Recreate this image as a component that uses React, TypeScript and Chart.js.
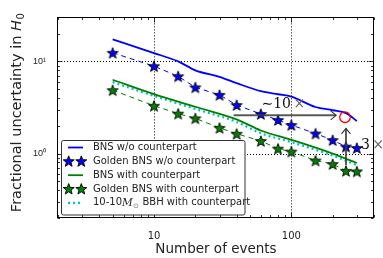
import { useEffect, useRef } from "react";
import { Chart, registerables } from "chart.js";

Chart.register(...registerables);

// ---------------- data ----------------
const bnsWoEvents = [5, 10, 15, 20, 30, 40, 60, 80, 100, 150, 200, 250, 300];
const bnsWoUncert = [17.3, 12.3, 10.0, 8.0, 6.8, 5.8, 4.75, 4.4, 4.15, 3.2, 2.95, 2.75, 2.26];
const goldenEvents = [5, 10, 15, 20, 30, 40, 60, 80, 100, 150, 200, 250, 300];
const goldenWoUncert = [12.4, 8.88, 6.89, 5.23, 4.33, 3.36, 2.69, 2.31, 2.04, 1.65, 1.4, 1.19, 1.15];
const bnsWithEvents = [5, 10, 20, 40, 60, 100, 200, 300];
const bnsWithUncert = [6.32, 4.42, 3.22, 2.35, 1.78, 1.41, 1.0, 0.79];
const goldenWithUncert = [4.87, 3.3, 2.71, 2.41, 1.9, 1.64, 1.37, 1.13, 1.05, 0.84, 0.77, 0.65, 0.64];
const bbhEvents = [5, 10, 20, 40, 60, 100, 200, 300];
const bbhUncert = [5.95, 4.22, 3.05, 2.2, 1.66, 1.33, 0.95, 0.75];

const seriesLabels = [
  "BNS w/o counterpart",
  "Golden BNS w/o counterpart",
  "BNS with counterpart",
  "Golden BNS with counterpart",
  "10-10M⊙ BBH with counterpart",
];

const xTickValues = [10, 100];
const xTickLabels = ["10", "100"];
const yTickValues = [1, 10];
const yTickLabels = ["10⁰", "10¹"];
const xTitle = "Number of events";
const yTitleMain = "Fractional uncertainty in ";
const yTitleVar = "H";
const yTitleSub = "0";

// annotations (data coordinates)
const tenXArrowX = [38, 212];
const tenXArrowY = 2.6;
const tenXLabel = { x: 60.6, y: 3.1, main: "∼10", times: "×" };
const threeXArrowX = 250;
const threeXArrowY = [0.75, 1.88];
const threeXLabel = { x: 321, y: 1.107, main: "3", times: "×" };
const markerCircle = { x: 246, y: 2.48 };

// ---------------- helpers ----------------
const BLUE = "#0000ff";
const GREEN = "#008000";
const CYAN = "#00bfbf";
const TEXT = "#222";

function drawStar(ctx: CanvasRenderingContext2D, cx: number, cy: number, R: number, fill: string) {
  const r = R * 0.42;
  ctx.save();
  ctx.beginPath();
  for (let i = 0; i < 10; i++) {
    const ang = -Math.PI / 2 + (i * Math.PI) / 5;
    const rad = i % 2 === 0 ? R : r;
    const px = cx + rad * Math.cos(ang);
    const py = cy + rad * Math.sin(ang);
    if (i === 0) ctx.moveTo(px, py);
    else ctx.lineTo(px, py);
  }
  ctx.closePath();
  ctx.fillStyle = fill;
  ctx.fill();
  ctx.lineWidth = 0.9;
  ctx.strokeStyle = "#000";
  ctx.lineJoin = "miter";
  ctx.stroke();
  ctx.restore();
}

function starImage(fill: string) {
  const c = document.createElement("canvas");
  c.width = 14;
  c.height = 14;
  const g = c.getContext("2d")!;
  drawStar(g, 7, 7.6, 5.8, fill);
  return c;
}

function zip(xs: number[], ys: number[]) {
  return xs.map((x, i) => ({ x, y: ys[i] }));
}

function logTickSet(min: number, max: number) {
  const out: { v: number; major: boolean }[] = [];
  for (let e = -2; e <= 4; e++) {
    for (let m = 1; m < 10; m++) {
      const v = m * Math.pow(10, e);
      if (v >= min * 0.999 && v <= max * 1.001) out.push({ v, major: m === 1 });
    }
  }
  return out;
}

function line(ctx: CanvasRenderingContext2D, x0: number, y0: number, x1: number, y1: number) {
  ctx.beginPath();
  ctx.moveTo(x0, y0);
  ctx.lineTo(x1, y1);
  ctx.stroke();
}

const decorPlugin = {
  id: "decor",
  beforeDatasetsDraw(chart: any) {
    const { ctx, chartArea: a } = chart;
    const xs = chart.scales.x;
    const ys = chart.scales.y;
    ctx.save();
    ctx.strokeStyle = "#000";
    ctx.lineWidth = 1;
    ctx.setLineDash([1, 2]);
    xTickValues.forEach((v) => {
      const p = Math.round(xs.getPixelForValue(v)) + 0.5;
      line(ctx, p, a.top, p, a.bottom);
    });
    yTickValues.forEach((v) => {
      const p = Math.round(ys.getPixelForValue(v)) + 0.5;
      line(ctx, a.left, p, a.right, p);
    });
    ctx.restore();
  },
  afterDatasetsDraw(chart: any) {
    const { ctx, chartArea: a } = chart;
    const xs = chart.scales.x;
    const ys = chart.scales.y;
    const L = Math.round(a.left) - 0.5;
    const R = Math.round(a.right) - 0.5;
    const T = Math.round(a.top) + 0.5;
    const B = Math.round(a.bottom) - 0.5;

    // ---- annotations ----
    ctx.save();
    const hx0 = xs.getPixelForValue(tenXArrowX[0]);
    const hx1 = xs.getPixelForValue(tenXArrowX[1]);
    const hy = ys.getPixelForValue(tenXArrowY);
    ctx.strokeStyle = "rgba(60,60,60,0.85)";
    ctx.lineWidth = 2;
    line(ctx, hx0, hy, hx1, hy);
    ctx.lineWidth = 1.1;
    ctx.strokeStyle = "#333";
    ctx.beginPath();
    ctx.moveTo(hx1 - 5.5, hy - 4.5);
    ctx.lineTo(hx1, hy);
    ctx.lineTo(hx1 - 5.5, hy + 4.5);
    ctx.stroke();
    const vx = xs.getPixelForValue(threeXArrowX);
    const vy0 = ys.getPixelForValue(threeXArrowY[0]);
    const vy1 = ys.getPixelForValue(threeXArrowY[1]);
    ctx.strokeStyle = "rgba(60,60,60,0.85)";
    ctx.lineWidth = 2;
    line(ctx, vx, vy0, vx, vy1);
    ctx.lineWidth = 1.1;
    ctx.strokeStyle = "#333";
    ctx.beginPath();
    ctx.moveTo(vx - 4.5, vy1 + 5.5);
    ctx.lineTo(vx, vy1);
    ctx.lineTo(vx + 4.5, vy1 + 5.5);
    ctx.stroke();
    ctx.strokeStyle = "#ff0000";
    ctx.lineWidth = 1.3;
    ctx.beginPath();
    ctx.arc(xs.getPixelForValue(markerCircle.x), ys.getPixelForValue(markerCircle.y), 5.3, 0, Math.PI * 2);
    ctx.stroke();
    ctx.textBaseline = "alphabetic";
    ctx.textAlign = "left";
    ctx.font = "14px 'DejaVu Serif'";
    [tenXLabel, threeXLabel].forEach((lb) => {
      const px = xs.getPixelForValue(lb.x);
      const py = ys.getPixelForValue(lb.y);
      ctx.fillStyle = "#111";
      ctx.fillText(lb.main, px, py);
      const w = ctx.measureText(lb.main).width;
      ctx.fillStyle = "#666";
      ctx.fillText(lb.times, px + w + 2.5, py);
    });
    ctx.restore();

    // ---- frame ----
    ctx.save();
    ctx.strokeStyle = "#000";
    ctx.lineWidth = 1;
    ctx.strokeRect(L, T, R - L, B - T);
    ctx.lineWidth = 0.8;
    logTickSet(xs.min, xs.max).forEach(({ v, major }) => {
      const p = Math.round(xs.getPixelForValue(v)) + 0.5;
      const len = major ? 5 : 2.5;
      line(ctx, p, B, p, B - len);
      line(ctx, p, T, p, T + len);
    });
    logTickSet(ys.min, ys.max).forEach(({ v, major }) => {
      const p = Math.round(ys.getPixelForValue(v)) + 0.5;
      const len = major ? 5 : 2.5;
      line(ctx, L, p, L + len, p);
      line(ctx, R, p, R - len, p);
    });
    ctx.restore();

    // ---- y title ----
    ctx.save();
    const mainFont = "14.5px 'DejaVu Sans'";
    const varFont = "oblique 14.5px 'DejaVu Sans'";
    const subFont = "10px 'DejaVu Sans'";
    ctx.font = mainFont;
    const w1 = ctx.measureText(yTitleMain).width;
    ctx.font = varFont;
    const w2 = ctx.measureText(yTitleVar).width;
    ctx.font = subFont;
    const w3 = ctx.measureText(yTitleSub).width;
    const total = w1 + w2 + w3 + 0.5;
    const cy = (a.top + a.bottom) / 2 - 5;
    ctx.translate(20.5, cy + total / 2);
    ctx.rotate(-Math.PI / 2);
    ctx.fillStyle = TEXT;
    ctx.textBaseline = "alphabetic";
    ctx.textAlign = "left";
    ctx.font = mainFont;
    ctx.fillText(yTitleMain, 0, 0);
    ctx.font = varFont;
    ctx.fillText(yTitleVar, w1, 0);
    ctx.font = subFont;
    ctx.fillText(yTitleSub, w1 + w2 + 0.5, 3);
    ctx.restore();

    // ---- legend ----
    ctx.save();
    const lx = Math.round(a.left) + 3.5;
    const lw = 183.5;
    const lh = 74.5;
    const ly = Math.round(a.bottom) - 3 - lh;
    ctx.fillStyle = "#fff";
    ctx.strokeStyle = "#333";
    ctx.lineWidth = 1;
    ctx.beginPath();
    (ctx as any).roundRect ? (ctx as any).roundRect(lx, ly, lw, lh, 2) : ctx.rect(lx, ly, lw, lh);
    ctx.fill();
    ctx.stroke();
    const ds = chart.data.datasets;
    ds.forEach((d: any, i: number) => {
      const ry = ly + 7 + i * 13.85;
      const hx0 = lx + 6.5;
      const hx1 = lx + 21.5;
      ctx.save();
      if (d.pointRadius > 0 && typeof d.pointStyle === "object") {
        drawStar(ctx, lx + 7.2, ry + 0.3, 5.8, d.pointBackgroundColor);
        drawStar(ctx, lx + 19.8, ry + 0.3, 5.8, d.pointBackgroundColor);
      } else {
        ctx.strokeStyle = d.borderColor;
        ctx.lineWidth = d.borderWidth;
        ctx.setLineDash(d.borderDash || []);
        line(ctx, hx0, ry, hx1, ry);
      }
      ctx.restore();
      const tx = lx + 31.5;
      ctx.fillStyle = TEXT;
      ctx.textBaseline = "middle";
      ctx.textAlign = "left";
      const label: string = d.label;
      const idx = label.indexOf("M⊙");
      if (idx < 0) {
        ctx.font = "10px 'DejaVu Sans'";
        ctx.fillText(label, tx, ry);
      } else {
        const pre = label.slice(0, idx);
        const post = label.slice(idx + 2);
        ctx.font = "10px 'DejaVu Sans'";
        ctx.fillText(pre, tx, ry);
        let cx = tx + ctx.measureText(pre).width;
        ctx.font = "italic 10.5px 'DejaVu Serif'";
        ctx.fillText("M", cx, ry);
        cx += ctx.measureText("M").width;
        ctx.font = "7px 'DejaVu Sans'";
        ctx.fillStyle = "#777";
        ctx.fillText("⊙", cx + 0.3, ry + 3);
        cx += ctx.measureText("⊙").width + 0.6;
        ctx.fillStyle = TEXT;
        ctx.font = "10px 'DejaVu Sans'";
        ctx.fillText(post, cx, ry);
      }
    });
    ctx.restore();
  },
};

export default function App() {
  const ref = useRef<HTMLCanvasElement>(null);
  useEffect(() => {
    const starBlue = starImage(BLUE);
    const starGreen = starImage(GREEN);
    const chart = new Chart(ref.current!, {
      type: "line",
      data: {
        datasets: [
          {
            label: seriesLabels[0],
            data: zip(bnsWoEvents, bnsWoUncert),
            borderColor: BLUE,
            borderWidth: 1.8,
            pointRadius: 0,
            cubicInterpolationMode: "monotone",
            fill: false,
          },
          {
            label: seriesLabels[1],
            data: zip(goldenEvents, goldenWoUncert),
            borderColor: BLUE,
            borderWidth: 1,
            borderDash: [5, 4],
            pointStyle: starBlue,
            pointRadius: 5,
            pointBackgroundColor: BLUE,
            fill: false,
          },
          {
            label: seriesLabels[2],
            data: zip(bnsWithEvents, bnsWithUncert),
            borderColor: GREEN,
            borderWidth: 1.8,
            pointRadius: 0,
            cubicInterpolationMode: "monotone",
            fill: false,
          },
          {
            label: seriesLabels[3],
            data: zip(goldenEvents, goldenWithUncert),
            borderColor: GREEN,
            borderWidth: 1,
            borderDash: [5, 4],
            pointStyle: starGreen,
            pointRadius: 5,
            pointBackgroundColor: GREEN,
            fill: false,
          },
          {
            label: seriesLabels[4],
            data: zip(bbhEvents, bbhUncert),
            borderColor: CYAN,
            borderWidth: 2.2,
            borderDash: [2, 3],
            pointRadius: 0,
            cubicInterpolationMode: "monotone",
            fill: false,
          },
        ] as any,
      },
      options: {
        animation: false,
        responsive: false,
        devicePixelRatio: 1,
        layout: { padding: { top: 7, right: 9, left: 0, bottom: 0 } },
        plugins: { legend: { display: false }, tooltip: { enabled: false } },
        scales: {
          x: {
            type: "logarithmic",
            min: 2,
            max: 400,
            afterFit(s: any) {
              s.height = 40;
            },
            afterBuildTicks(s: any) {
              s.ticks = xTickValues.map((v) => ({ value: v }));
            },
            ticks: {
              callback: (v: any) => xTickLabels[xTickValues.indexOf(Number(v))] ?? "",
              font: { family: "DejaVu Sans", size: 10 },
              color: TEXT,
              padding: 12,
              maxRotation: 0,
              autoSkip: false,
            },
            grid: { display: false, drawTicks: false },
            border: { display: false },
            title: {
              display: true,
              text: xTitle,
              font: { family: "DejaVu Sans", size: 13.5 },
              color: TEXT,
              padding: { top: 0, bottom: 0 },
            },
          },
          y: {
            type: "logarithmic",
            min: 0.2,
            max: 30,
            afterFit(s: any) {
              s.width = 58;
            },
            afterBuildTicks(s: any) {
              s.ticks = yTickValues.map((v) => ({ value: v }));
            },
            ticks: {
              callback: (v: any) => yTickLabels[yTickValues.indexOf(Number(v))] ?? "",
              font: { family: "Liberation Sans", size: 9 },
              color: TEXT,
              padding: 12,
              autoSkip: false,
            },
            grid: { display: false, drawTicks: false },
            border: { display: false },
            title: { display: false },
          },
        },
      } as any,
      plugins: [decorPlugin],
    });
    return () => chart.destroy();
  }, []);
  return (
    <div style={{ position: "fixed", left: 0, top: 0, width: 383, height: 258, background: "#fff" }}>
      <canvas ref={ref} width={383} height={258} style={{ display: "block", width: 383, height: 258 }} />
    </div>
  );
}
